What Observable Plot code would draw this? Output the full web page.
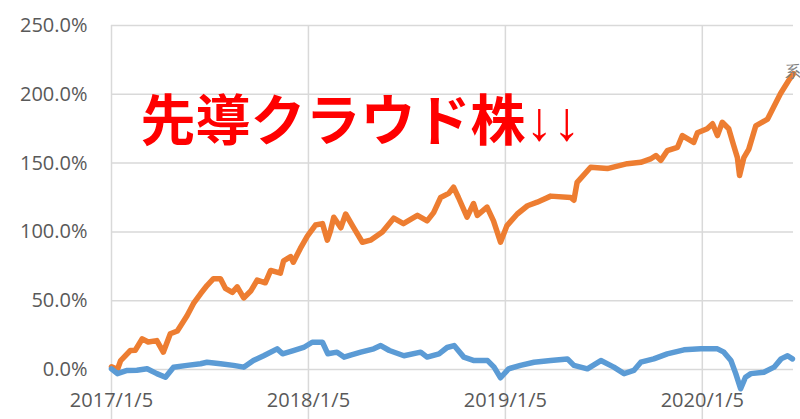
<!DOCTYPE html>
<html><head><meta charset="utf-8">
<script src="https://cdn.jsdelivr.net/npm/d3@7"></script>
<script src="https://cdn.jsdelivr.net/npm/@observablehq/plot@0.6"></script>
<style>html,body{margin:0;padding:0;background:#fff;}#chart{width:800px;height:419px;overflow:hidden;}</style>
</head><body><div id="chart"></div>
<script>
// 先導クラウド株 (orange) — cumulative return, %
const orangeDates = ["2017-01-05","2017-01-16","2017-01-22","2017-02-09","2017-02-18","2017-03-03","2017-03-14","2017-03-30","2017-04-11","2017-04-24","2017-05-07","2017-05-25","2017-06-06","2017-06-19","2017-07-01","2017-07-13","2017-07-26","2017-08-04","2017-08-17","2017-08-26","2017-09-07","2017-09-20","2017-10-02","2017-10-17","2017-10-27","2017-11-14","2017-11-20","2017-12-03","2017-12-08","2017-12-21","2018-01-03","2018-01-18","2018-01-31","2018-02-09","2018-02-15","2018-02-21","2018-03-06","2018-03-15","2018-03-30","2018-04-15","2018-04-30","2018-05-22","2018-06-12","2018-06-30","2018-07-26","2018-08-13","2018-08-25","2018-09-07","2018-09-22","2018-10-01","2018-10-10","2018-10-26","2018-11-07","2018-11-14","2018-12-02","2018-12-14","2018-12-27","2019-01-08","2019-01-27","2019-02-15","2019-03-05","2019-03-30","2019-05-06","2019-05-12","2019-05-18","2019-06-12","2019-07-13","2019-08-19","2019-09-13","2019-10-01","2019-10-11","2019-10-20","2019-11-01","2019-11-20","2019-11-29","2019-12-20","2019-12-27","2020-01-14","2020-01-24","2020-02-02","2020-02-11","2020-02-23","2020-03-03","2020-03-10","2020-03-14","2020-03-22","2020-03-31","2020-04-13","2020-05-05","2020-05-16","2020-05-29","2020-06-13","2020-06-22"];
const orangeValues = [2,0,6.5,13.8,14,22.3,20,21,12.6,26,28,39,48,55,61,66,66,59,56,60,52,57,65,63,72,70,79,82,78,88,97,105,106,94,101,110.7,103,113,103,92.5,94,100,110,106,112,108,114,125,128,132.5,125,110.7,120.6,112,118,108,92.5,104.6,113,119,121.6,126,125,123,136,147,146,149.6,150.6,153,155.5,152,159,161.5,170,165,172,175,178.6,170,179.7,175,163,154,141,154,160,177,182,190.6,200.6,210,215];
// blue series — cumulative return, %
const blueDates = ["2017-01-05","2017-01-16","2017-02-03","2017-02-21","2017-03-12","2017-03-30","2017-04-15","2017-04-30","2017-05-25","2017-06-19","2017-07-01","2017-07-26","2017-08-19","2017-09-07","2017-09-25","2017-10-14","2017-11-08","2017-11-18","2017-12-08","2017-12-27","2018-01-12","2018-01-31","2018-02-10","2018-02-27","2018-03-12","2018-03-24","2018-04-12","2018-05-06","2018-05-19","2018-06-04","2018-07-01","2018-08-01","2018-08-13","2018-09-04","2018-09-19","2018-10-02","2018-10-20","2018-11-08","2018-12-03","2018-12-15","2018-12-27","2019-01-11","2019-02-02","2019-02-27","2019-03-30","2019-04-30","2019-05-12","2019-06-06","2019-07-01","2019-07-25","2019-08-13","2019-08-31","2019-09-13","2019-10-07","2019-11-01","2019-12-02","2020-01-02","2020-02-02","2020-02-14","2020-02-27","2020-03-07","2020-03-16","2020-03-25","2020-04-04","2020-04-28","2020-05-17","2020-05-30","2020-06-11","2020-06-20"];
const blueValues = [0.5,-3,-0.7,-0.5,0.5,-3,-5.6,1.7,3,4.2,5.3,4.2,3,1.7,6.5,10,15,11.4,13.8,16,19.8,19.8,11.4,12.6,9,10.5,12.6,15,17.4,13.8,10,12.6,9,11.4,16,17.4,9,6.5,6.5,1.7,-6,0.5,3,5.3,6.5,7.7,3,0.5,6.5,1.7,-3,-0.7,5.3,7.7,11.4,14.3,15,15,12.6,6.5,-3,-14,-5.6,-3,-2,1.7,7.7,10,7.7];
const yTicks = [0,50,100,150,200,250];
const xTickDates = ["2017-01-05","2018-01-05","2019-01-05","2020-01-05"];
const xTickLabels = ["2017/1/5","2018/1/5","2019/1/5","2020/1/5"];
const titleText = "先導クラウド株";
const arrowText = "↓↓";
const seriesLabel = "系";

const parse = d3.utcParse("%Y-%m-%d");
const orange = orangeDates.map((d,i)=>({date:parse(d), value:orangeValues[i]}));
const blue = blueDates.map((d,i)=>({date:parse(d), value:blueValues[i]}));
const xTicksData = xTickDates.map((d,i)=>({date:parse(d), label:xTickLabels[i]}));

const chart = Plot.plot({
  width: 800, height: 419,
  marginLeft: 111, marginRight: 7, marginTop: 25, marginBottom: 0,
  x: {type: "utc", domain: [parse("2017-01-05"), parse("2020-06-22")], axis: null},
  y: {domain: [-36.34, 250], axis: null},
  style: {fontFamily: "'Open Sans', sans-serif", color: "#595959", background: "#fff", overflow: "hidden"},
  marks: [
    Plot.ruleY(yTicks, {stroke: "#d9d9d9", strokeWidth: 1.5}),
    Plot.ruleX(xTicksData, {x: "date", stroke: "#d9d9d9", strokeWidth: 1.5}),
    Plot.axisY({ticks: yTicks, label: null, tickSize: 0, tickPadding: 24, tickFormat: d => d.toFixed(1) + "%", fontSize: 20, fill: "#595959"}),
    Plot.text(xTicksData, {x: "date", text: "label", frameAnchor: "bottom", dy: -19, lineAnchor: "middle", fontSize: 20, fill: "#595959"}),
    Plot.line(orange, {x: "date", y: "value", stroke: "#ED7D31", strokeWidth: 5.5, strokeLinejoin: "round", strokeLinecap: "round"}),
    Plot.line(blue, {x: "date", y: "value", stroke: "#5B9BD5", strokeWidth: 5.5, strokeLinejoin: "round", strokeLinecap: "round"}),
    Plot.text([seriesLabel], {text: d => d, frameAnchor: "top-left", dx: 673, dy: 46, lineAnchor: "middle", textAnchor: "start", fontSize: 16, fill: "#7f7f7f"}),
    Plot.text([titleText], {text: d => d, frameAnchor: "top-left", dx: 29, dy: 114, lineAnchor: "bottom", textAnchor: "start", fontSize: 55, fontWeight: "bold", fontFamily: "'Noto Sans CJK JP', sans-serif", fill: "#ff0000"}),
    Plot.text([arrowText], {text: d => d, frameAnchor: "top-left", dx: 414, dy: 114, lineAnchor: "bottom", textAnchor: "start", fontSize: 55, fontWeight: "normal", fontFamily: "'Liberation Sans', sans-serif", fill: "#ff0000"})
  ]
});
document.getElementById("chart").appendChild(chart);
</script>
</body></html>
